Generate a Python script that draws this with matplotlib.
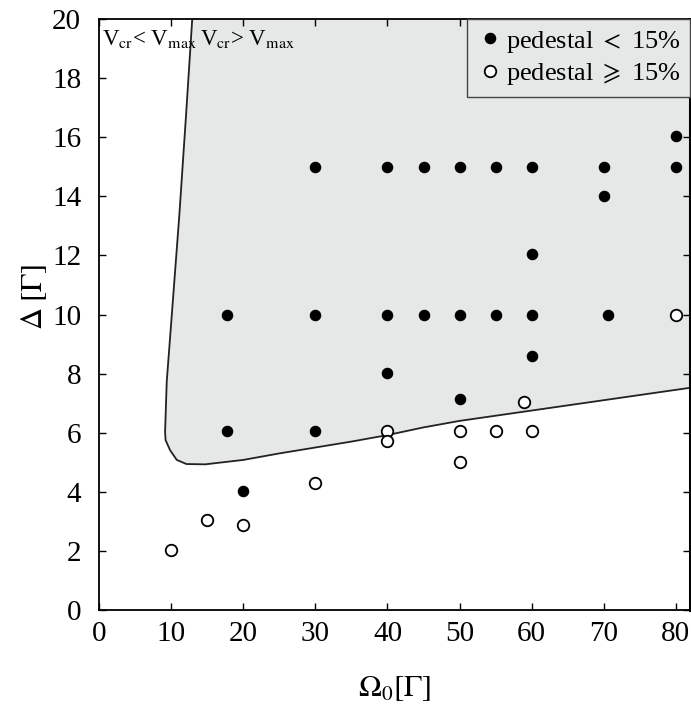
import matplotlib
matplotlib.use("Agg")
import matplotlib.pyplot as plt
from matplotlib.lines import Line2D

plt.rcParams['font.family'] = ['Liberation Serif', 'DejaVu Serif']
plt.rcParams['mathtext.fontset'] = 'stix'

# Data: filled = pedestal < 15%, open = pedestal >= 15%
filled_x = [17.7, 17.7, 20, 30, 30, 30, 40, 40, 40, 45, 45, 50, 50, 50, 55, 55,
            60, 60, 60, 60, 70, 70, 70.6, 80, 80]
filled_y = [10, 6.05, 4.04, 15, 10, 6.05, 15, 10, 8.03, 15, 10, 15, 10, 7.15, 15, 10,
            15, 12.05, 10, 8.6, 15, 14, 10, 16.04, 15]
open_x = [10, 15, 20, 30, 40, 40, 50, 50, 55, 60, 59, 80]
open_y = [2.03, 3.05, 2.87, 4.31, 6.07, 5.73, 6.06, 5.02, 6.06, 6.06, 7.04, 10]

# Boundary of region V_cr > V_max
bound_x = [12.9, 12.04, 11.11, 10.06, 9.36, 9.13, 9.2, 9.82, 10.75, 12.1, 14.7,
           20, 25, 30, 35, 40, 45, 50, 60, 70, 82]
bound_y = [20.0, 16.75, 13.37, 9.98, 7.73, 6.03, 5.75, 5.41, 5.08, 4.94, 4.93,
           5.08, 5.3, 5.5, 5.7, 5.92, 6.18, 6.4, 6.75, 7.1, 7.52]

fig = plt.figure(figsize=(6.91, 7.04), dpi=100)
ax = fig.add_axes([0.1437, 0.1335, 0.855, 0.8395])

poly_x = bound_x + [82, 82]
poly_y = bound_y + [20, 20]
ax.fill(poly_x, poly_y, color='#e6e8e8', zorder=0, lw=0)
ax.plot(bound_x, bound_y, color='#222222', lw=1.3, zorder=1)

ax.plot(filled_x, filled_y, 'o', ms=7.3, color='black', mec='black', zorder=3)
ax.plot(open_x, open_y, 'o', ms=8.3, mfc='white', mec='black', mew=1.3, zorder=3)

ax.set_xlim(0, 82)
ax.set_ylim(0, 20)
ax.set_xticks(range(0, 81, 10))
ax.set_yticks(range(0, 21, 2))
ax.tick_params(direction='in', length=5, width=1, top=True, right=True,
               labelsize=21)
ax.tick_params(axis='x', pad=8)
ax.tick_params(axis='y', pad=13)
for s in ax.spines.values():
    s.set_linewidth(1.3)
ax.spines['right'].set_linewidth(2.2)

ax.set_xlabel(r'$\Omega_0[\Gamma]$', fontsize=22)
ax.xaxis.set_label_coords(0.5, -0.108)
ax.set_ylabel(r'$\Delta\;[\Gamma]$', fontsize=22)
ax.yaxis.set_label_coords(-0.085, 0.53)

ax.text(0.004, 0.985, r'V$_\mathrm{cr}$< V$_\mathrm{max}$', transform=ax.transAxes,
        fontsize=16.5, va='top', ha='left')
ax.text(0.1705, 0.985, r'V$_\mathrm{cr}$> V$_\mathrm{max}$', transform=ax.transAxes,
        fontsize=16.5, va='top', ha='left')

handles = [Line2D([], [], ls='none', marker='o', ms=7.3, color='black'),
           Line2D([], [], ls='none', marker='o', ms=8.3, mfc='white', mec='black', mew=1.3)]
labels = [r'pedestal $<$ 15%', r'pedestal $\geqslant$ 15%']
leg = ax.legend(handles, labels, loc='upper right', borderaxespad=0, fontsize=19,
                frameon=True, fancybox=False, handletextpad=0.1, handlelength=1.0,
                borderpad=0.36, labelspacing=0.25)
leg.get_frame().set_facecolor('#e6e8e8')
leg.get_frame().set_edgecolor('#444444')
leg.get_frame().set_alpha(1)
leg.get_frame().set_linewidth(1.0)

fig.savefig('out.png', dpi=100)
